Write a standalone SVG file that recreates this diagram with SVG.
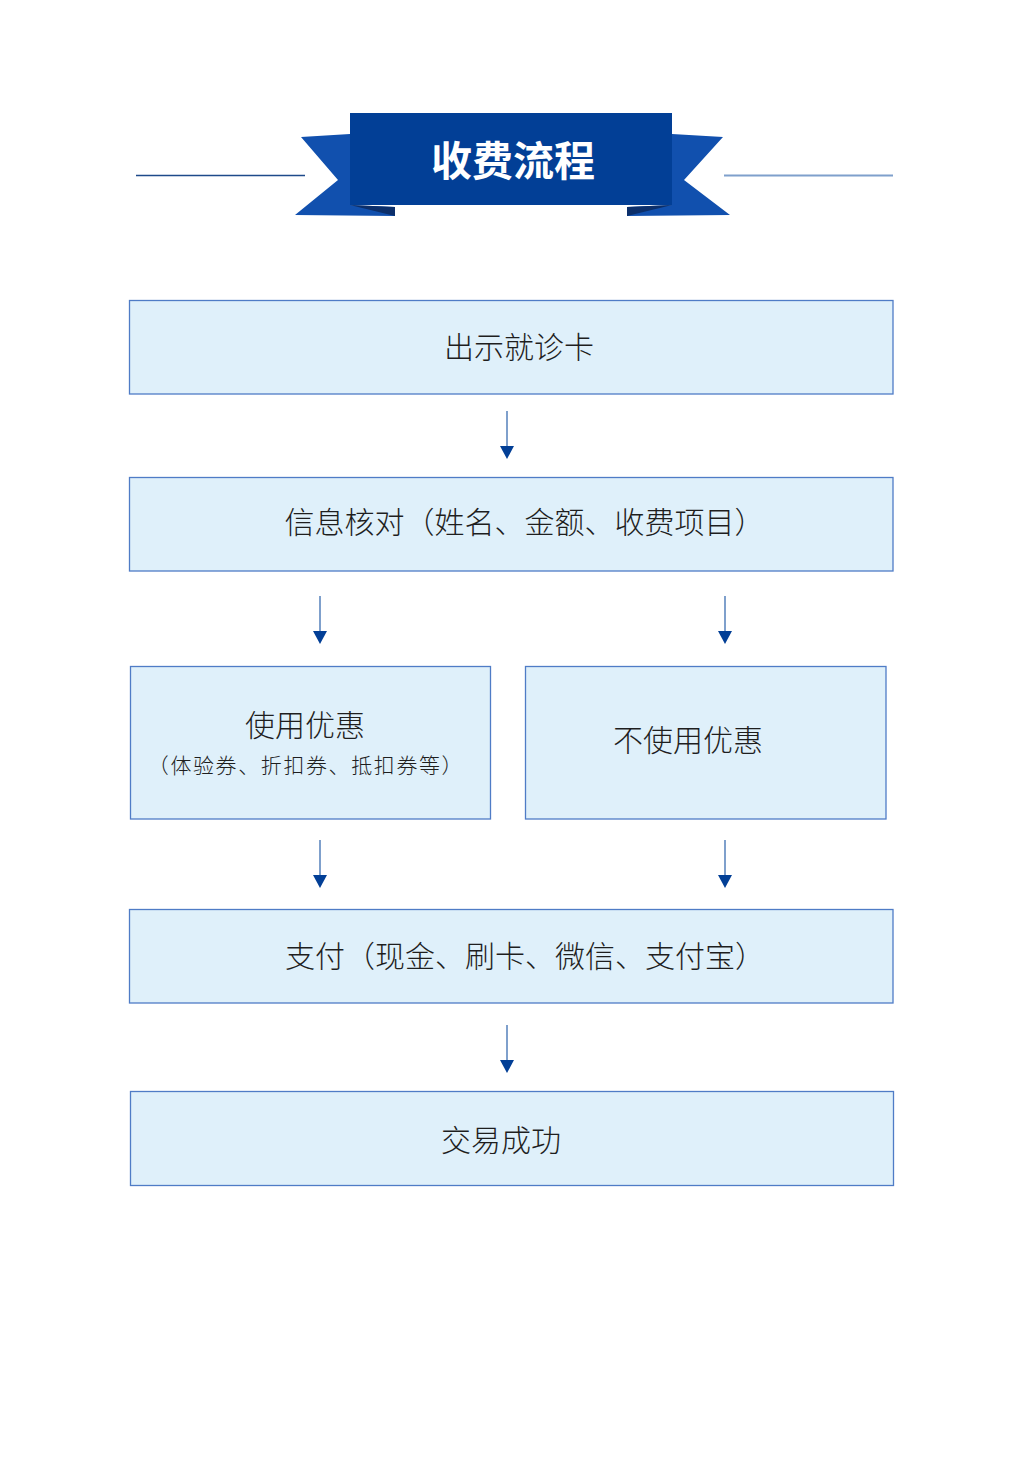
<svg xmlns="http://www.w3.org/2000/svg" width="1036" height="1465" viewBox="0 0 1036 1465">
<style>
.box{fill:#dff0fa;stroke:#4f7cc6;stroke-width:1.3}
.t{font-family:"Noto Sans CJK SC","Noto Sans",sans-serif;fill:#1e1e1e;text-anchor:middle;font-weight:300}
.conn line{stroke:#7fa0cc;stroke-width:2}
.title{font-family:"Noto Sans CJK SC","Noto Sans",sans-serif;fill:#ffffff;font-weight:700;text-anchor:middle;font-size:41px}
</style>
<rect width="1036" height="1465" fill="#ffffff"/>
<g id="banner">
<line x1="136" y1="175.5" x2="305" y2="175.5" stroke="#1e4a8a" stroke-width="1.5"/>
<line x1="724" y1="175.5" x2="893" y2="175.5" stroke="#7fa0cc" stroke-width="2"/>
<polygon points="301,137 350,134 350,205 395,207 395,216 295,215 338,180" fill="#1150ae"/>
<polygon points="723,137 672,134 672,205 627,207 627,216 730,215 684,180" fill="#1150ae"/>
<polygon points="350,205 395,207 395,216" fill="#0c2f6a"/>
<polygon points="672,205 627,207 627,216" fill="#0c2f6a"/>
<rect x="350" y="113" width="322" height="92" fill="#023f96"/>
<text class="title" x="513" y="176">收费流程</text>
</g>
<g id="node1">
<rect class="box" x="129.5" y="300.5" width="763.5" height="93.5"/>
<text class="t" x="519" y="358" font-size="30">出示就诊卡</text>
</g>
<g id="node2">
<rect class="box" x="129.5" y="477.5" width="763.5" height="93.5"/>
<text class="t" x="524.5" y="533" font-size="30">信息核对（姓名、金额、收费项目）</text>
</g>
<g id="node3">
<rect class="box" x="130.5" y="666.5" width="360" height="152.5"/>
<text class="t" x="305" y="736" font-size="30">使用优惠</text>
<text class="t" x="306" y="773" font-size="21" letter-spacing="1.6">（体验券、折扣券、抵扣券等）</text>
</g>
<g id="node4">
<rect class="box" x="525.5" y="666.5" width="360.5" height="152.5"/>
<text class="t" x="688" y="751" font-size="30">不使用优惠</text>
</g>
<g id="node5">
<rect class="box" x="129.5" y="909.5" width="763.5" height="93.5"/>
<text class="t" x="525" y="967" font-size="30">支付（现金、刷卡、微信、支付宝）</text>
</g>
<g id="node6">
<rect class="box" x="130.5" y="1091.5" width="763" height="94"/>
<text class="t" x="501" y="1151" font-size="30">交易成功</text>
</g>
<g id="connectors" class="conn">
<line x1="507" y1="411" x2="507" y2="447"/>
<polygon points="500,446 514,446 507,459" fill="#023f96"/>
<line x1="320" y1="596" x2="320" y2="632"/>
<polygon points="313,631 327,631 320,644" fill="#023f96"/>
<line x1="725" y1="596" x2="725" y2="632"/>
<polygon points="718,631 732,631 725,644" fill="#023f96"/>
<line x1="320" y1="840" x2="320" y2="876"/>
<polygon points="313,875 327,875 320,888" fill="#023f96"/>
<line x1="725" y1="840" x2="725" y2="876"/>
<polygon points="718,875 732,875 725,888" fill="#023f96"/>
<line x1="507" y1="1025" x2="507" y2="1061"/>
<polygon points="500,1060 514,1060 507,1073" fill="#023f96"/>
</g>
</svg>
